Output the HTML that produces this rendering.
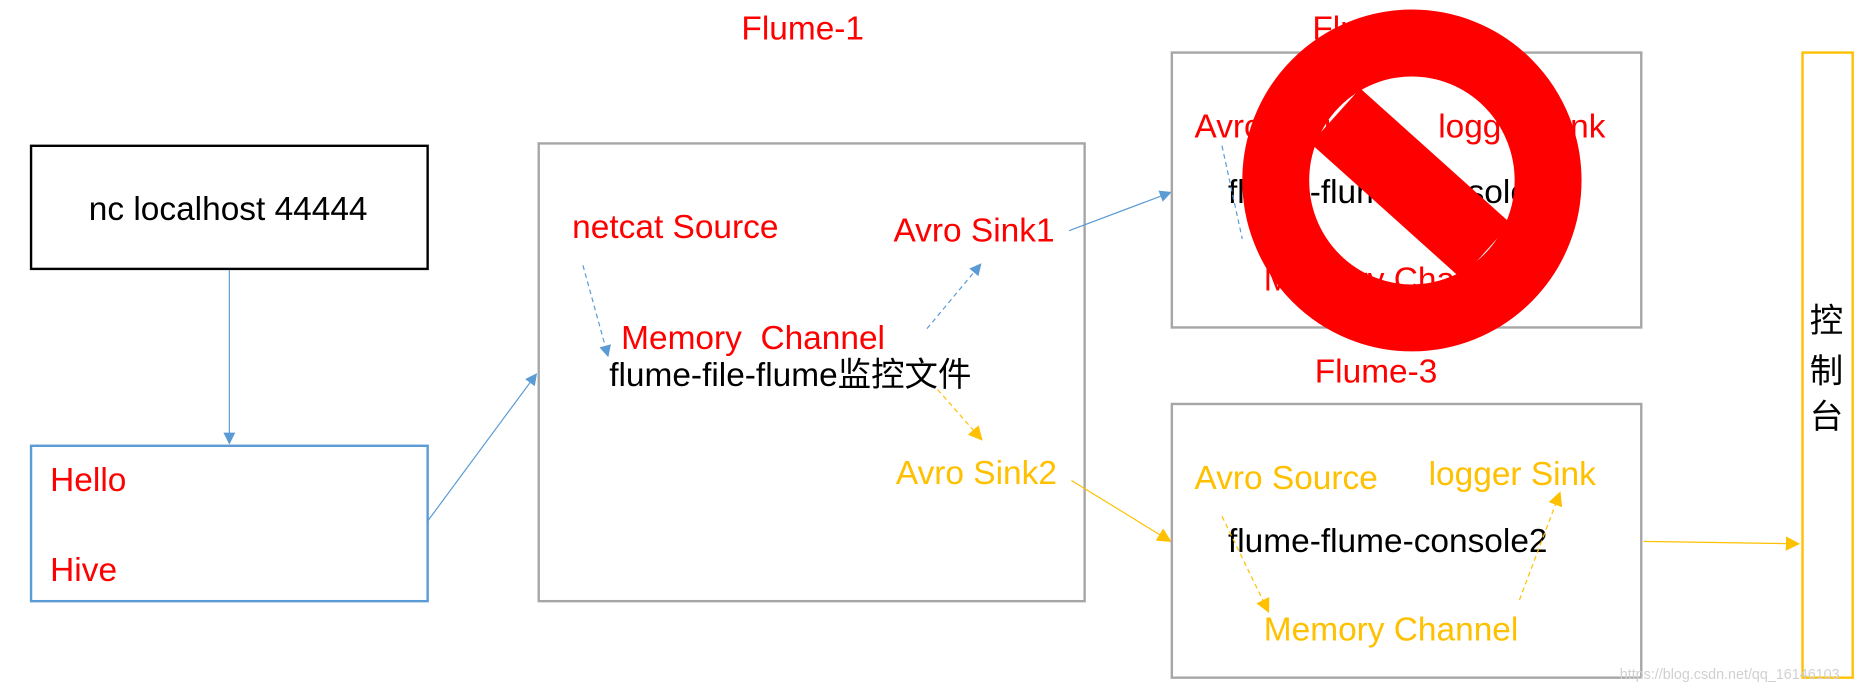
<!DOCTYPE html>
<html><head><meta charset="utf-8"><style>
html,body{margin:0;padding:0;background:#fff;overflow:hidden}
svg{display:block}
text{font-family:"Liberation Sans","Noto Sans CJK SC",sans-serif;font-size:28px}
</style></head><body>
<svg width="1873" height="692" viewBox="0 0 1568 579" preserveAspectRatio="none" xmlns="http://www.w3.org/2000/svg">
<defs>
<marker id="ab" markerWidth="10" markerHeight="10" refX="9" refY="5" orient="auto" markerUnits="userSpaceOnUse"><path d="M0,0 L10,5 L0,10 z" fill="#5B9BD5"/></marker>
<marker id="ay" markerWidth="12" markerHeight="12" refX="11" refY="6" orient="auto" markerUnits="userSpaceOnUse"><path d="M0,0 L12,6 L0,12 z" fill="#FFC000"/></marker>
</defs>
<text x="672" y="33" fill="#FF0000" text-anchor="middle">Flume-1</text>
<rect x="26" y="122" width="332" height="103" fill="none" stroke="#000" stroke-width="2"/>
<text x="191" y="184" fill="#000" text-anchor="middle">nc localhost 44444</text>
<line x1="192" y1="226" x2="192" y2="371" stroke="#5B9BD5" stroke-width="1" marker-end="url(#ab)"/>
<rect x="26" y="373" width="332" height="130" fill="none" stroke="#5B9BD5" stroke-width="2"/>
<text x="42" y="411" fill="#FF0000">Hello</text>
<text x="42" y="486" fill="#FF0000">Hive</text>
<line x1="358" y1="436" x2="449" y2="313" stroke="#5B9BD5" stroke-width="1" marker-end="url(#ab)"/>
<rect x="451" y="120" width="457" height="383" fill="none" stroke="#A6A6A6" stroke-width="2"/>
<text x="479" y="199" fill="#FF0000">netcat Source</text>
<text x="748" y="202" fill="#FF0000">Avro Sink1</text>
<text x="520" y="292" fill="#FF0000" xml:space="preserve">Memory  Channel</text>
<text x="510" y="323" fill="#000">flume-file-flume监控文件</text>
<line x1="488" y1="222" x2="509" y2="298" stroke="#5B9BD5" stroke-width="1" stroke-dasharray="4,3" marker-end="url(#ab)"/>
<line x1="776" y1="275" x2="821" y2="221" stroke="#5B9BD5" stroke-width="1" stroke-dasharray="4,3" marker-end="url(#ab)"/>
<line x1="785" y1="326" x2="822" y2="368" stroke="#FFC000" stroke-width="1" stroke-dasharray="4,3" marker-end="url(#ay)"/>
<text x="750" y="405" fill="#FFC000">Avro Sink2</text>
<line x1="895" y1="193" x2="980" y2="161" stroke="#5B9BD5" stroke-width="1" marker-end="url(#ab)"/>
<line x1="897" y1="402" x2="980" y2="453" stroke="#FFC000" stroke-width="1" marker-end="url(#ay)"/>
<text x="1150" y="33" fill="#FF0000" text-anchor="middle">Flume-2</text>
<rect x="981" y="44" width="393" height="230" fill="none" stroke="#A6A6A6" stroke-width="2"/>
<text x="1000" y="115" fill="#FF0000">Avro Source</text>
<text x="1204" y="115" fill="#FF0000">logger Sink</text>
<text x="1028" y="170" fill="#000">flume-flume-console</text>
<text x="1058" y="243" fill="#FF0000">Memory Channel</text>
<line x1="1023" y1="122" x2="1040" y2="200" stroke="#5B9BD5" stroke-width="1" stroke-dasharray="4,3"/>
<line x1="1118" y1="97" x2="1244" y2="210" stroke="#FF0000" stroke-width="62"/>
<ellipse cx="1182" cy="151" rx="114" ry="115" fill="none" stroke="#FF0000" stroke-width="56"/>
<text x="1152" y="320" fill="#FF0000" text-anchor="middle">Flume-3</text>
<rect x="981" y="338" width="393" height="229" fill="none" stroke="#A6A6A6" stroke-width="2"/>
<text x="1000" y="409" fill="#FFC000">Avro Source</text>
<text x="1196" y="406" fill="#FFC000">logger Sink</text>
<text x="1028" y="462" fill="#000">flume-flume-console2</text>
<text x="1058" y="536" fill="#FFC000">Memory Channel</text>
<line x1="1023" y1="432" x2="1062" y2="512" stroke="#FFC000" stroke-width="1" stroke-dasharray="4,3" marker-end="url(#ay)"/>
<line x1="1272" y1="502" x2="1306" y2="412" stroke="#FFC000" stroke-width="1" stroke-dasharray="4,3" marker-end="url(#ay)"/>
<line x1="1376" y1="453" x2="1506" y2="455" stroke="#FFC000" stroke-width="1" marker-end="url(#ay)"/>
<rect x="1509" y="44" width="42" height="523" fill="none" stroke="#FFC000" stroke-width="2"/>
<text x="1529" y="278" fill="#000" text-anchor="middle">控</text>
<text x="1529" y="320" fill="#000" text-anchor="middle">制</text>
<text x="1529" y="358" fill="#000" text-anchor="middle">台</text>
<text x="1356" y="568" fill="#D0D0D0" style="font-size:12px">https://blog.csdn.net/qq_16146103</text>
</svg>
</body></html>
